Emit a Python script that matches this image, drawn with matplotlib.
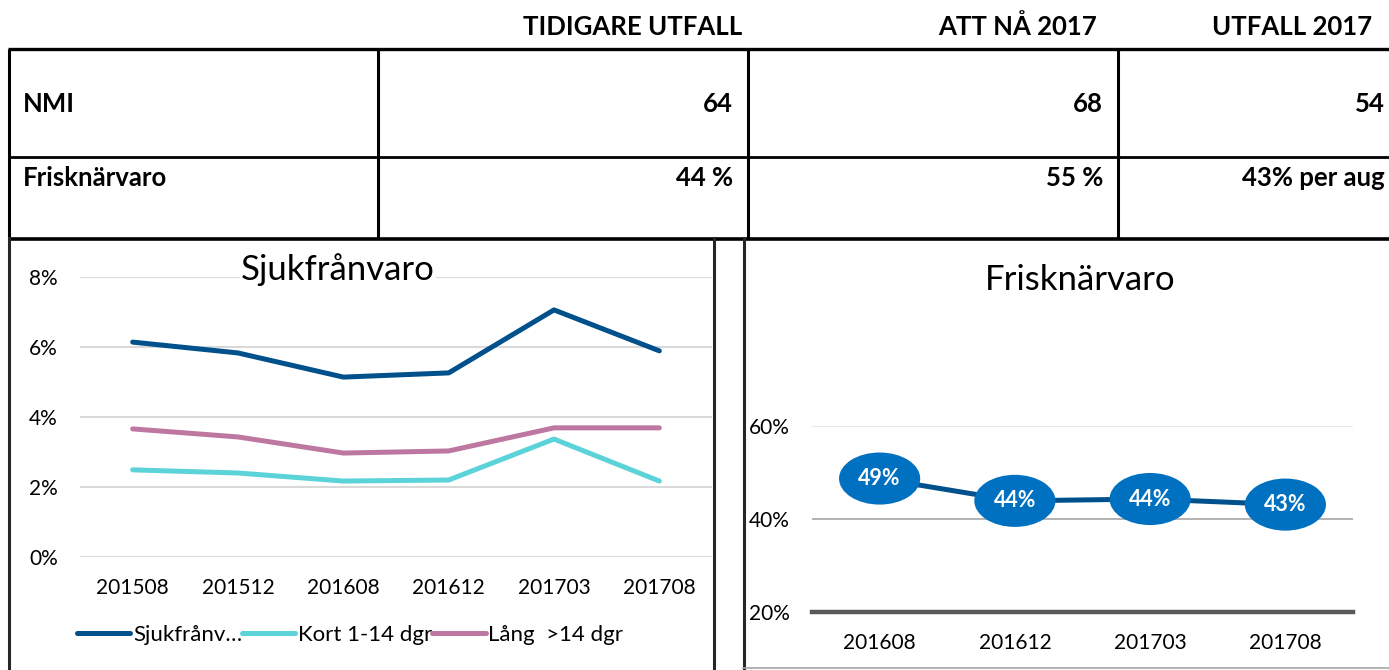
import matplotlib
matplotlib.use('Agg')
import matplotlib.pyplot as plt
from matplotlib.patches import Ellipse

plt.rcParams['font.family'] = ['Lato', 'DejaVu Sans']

# table at the top
col_headers = ['TIDIGARE UTFALL', 'ATT NÅ 2017', 'UTFALL 2017']
row_labels = ['NMI', 'Frisknärvaro']
table_values = [['64', '68', '54'],
                ['44 %', '55 %', '43% per aug']]

# Sjukfrånvaro (percent)
periods = ['201508', '201512', '201608', '201612', '201703', '201708']
sjuk_total = [6.14, 5.83, 5.14, 5.26, 7.06, 5.89]
sjuk_kort = [2.49, 2.40, 2.17, 2.20, 3.37, 2.17]
sjuk_lang = [3.66, 3.43, 2.97, 3.03, 3.69, 3.69]
sjuk_names = ['Sjukfrånv…', 'Kort 1-14 dgr', 'Lång  >14 dgr']

# Frisknärvaro (percent)
frisk_periods = ['201608', '201612', '201703', '201708']
frisk = [48.7, 43.9, 44.3, 43.1]
frisk_labels = ['49%', '44%', '44%', '43%']

W, H = 1389, 670
fig = plt.figure(figsize=(W / 100, H / 100), dpi=100)
fig.patch.set_facecolor('white')

def px(x, y, w=0, h=0):
    # pixel box (top-left origin) -> figure fraction rect
    return [x / W, 1 - (y + h) / H, w / W, h / H]

# overlay for table and frames
ov = fig.add_axes([0, 0, 1, 1])
ov.set_xlim(0, W)
ov.set_ylim(H, 0)
ov.axis('off')
ov.patch.set_alpha(0)

k = dict(color='black', solid_capstyle='butt')
ov.plot([8, W], [49, 49], lw=2.4, **k)
ov.plot([8, W], [157, 157], lw=2.0, **k)
ov.plot([8, W], [238.5, 238.5], lw=2.6, **k)
for xv in [8.5, 378, 748, 1118]:
    ov.plot([xv, xv], [49, 238], lw=2.2, **k)
# chart frames
ov.plot([8.5, 8.5], [238, H], lw=2.2, color='#262626')
ov.plot([714, 714], [238, H], lw=2.2, color='#262626')
ov.plot([743.5, 743.5], [238, 668], lw=2.2, color='#262626')
ov.plot([743, W], [668, 668], lw=1.2, color='#A6A6A6')

bold = dict(fontsize=18.5, fontweight='bold', color='black', va='center')
for txt, xr in zip(col_headers, [742, 1097, 1372]):
    ov.text(xr, 27, txt, ha='right', **bold)
for lab, yv in zip(row_labels, [104, 178]):
    ov.text(23, yv, lab, ha='left', **bold)
for row, yv in zip(table_values, [104, 178]):
    for val, xr in zip(row, [733, 1103, 1385]):
        ov.text(xr, yv, val, ha='right', **bold)

# ---- left chart: Sjukfrånvaro
ax1 = fig.add_axes(px(80, 277, 632, 280))
ax1.patch.set_alpha(0)
x = range(len(periods))
ax1.plot(x, sjuk_total, color='#00508C', lw=3.6, label=sjuk_names[0], solid_capstyle='round')
ax1.plot(x, sjuk_kort, color='#5BD3D8', lw=3.6, label=sjuk_names[1], solid_capstyle='round')
ax1.plot(x, sjuk_lang, color='#BE77A1', lw=3.6, label=sjuk_names[2], solid_capstyle='round')
ax1.set_xlim(-0.5, len(periods) - 0.5)
ax1.set_ylim(0, 8)
ax1.set_yticks([0, 2, 4, 6, 8])
ax1.set_yticklabels([f'{v}%' for v in [0, 2, 4, 6, 8]])
ax1.set_xticks(list(x))
ax1.set_xticklabels(periods)
ax1.tick_params(length=0, labelsize=15, colors='black')
ax1.tick_params(axis='y', pad=16)
ax1.tick_params(axis='x', pad=15)
ax1.grid(axis='y', color='#D9D9D9', lw=1.5)
ax1.set_axisbelow(True)
for s in ax1.spines.values():
    s.set_visible(False)
ax1.legend(loc='center', bbox_to_anchor=(350 / W, 1 - 635 / H), bbox_transform=fig.transFigure,
           ncol=3, frameon=False, fontsize=16, handlelength=2.4, handletextpad=0.12,
           columnspacing=0.0, borderpad=0)
fig.text(338 / W, 1 - 270 / H, 'Sjukfrånvaro', ha='center', va='center', fontsize=25,
         bbox=dict(facecolor='white', edgecolor='none', pad=1))

# ---- right chart: Frisknärvaro
ax2 = fig.add_axes(px(812, 426, 541, 186))
ax2.patch.set_alpha(0)
x2 = range(len(frisk_periods))
ax2.plot(x2, frisk, color='#00508C', lw=3.6, zorder=3)
for xi, v, lab in zip(x2, frisk, frisk_labels):
    ax2.add_patch(Ellipse((xi, v), 0.6, 11.2, facecolor='#0070C0', edgecolor='none', zorder=4))
    ax2.text(xi, v, lab, ha='center', va='center', color='white', fontsize=15.5,
             fontweight='bold', zorder=5)
ax2.set_xlim(-0.5, len(frisk_periods) - 0.5)
ax2.set_ylim(20, 60)
ax2.set_yticks([20, 40, 60])
ax2.set_yticklabels(['20%', '40%', '60%'])
ax2.set_xticks(list(x2))
ax2.set_xticklabels(frisk_periods)
ax2.tick_params(length=0, labelsize=15, colors='black')
ax2.tick_params(axis='y', pad=16)
ax2.tick_params(axis='x', pad=15)
ax2.grid(axis='y', lw=1.2)
gl = ax2.get_ygridlines()
gl[0].set_visible(False)
gl[1].set_color('#A6A6A6')
gl[2].set_color('#E3E3E3')
for s in ax2.spines.values():
    s.set_visible(False)
ax2.spines['bottom'].set_visible(True)
ax2.spines['bottom'].set_color('#595959')
ax2.spines['bottom'].set_linewidth(3.2)
fig.text(1080 / W, 1 - 280 / H, 'Frisknärvaro', ha='center', va='center', fontsize=25)

fig.savefig('out.png', dpi=100)
